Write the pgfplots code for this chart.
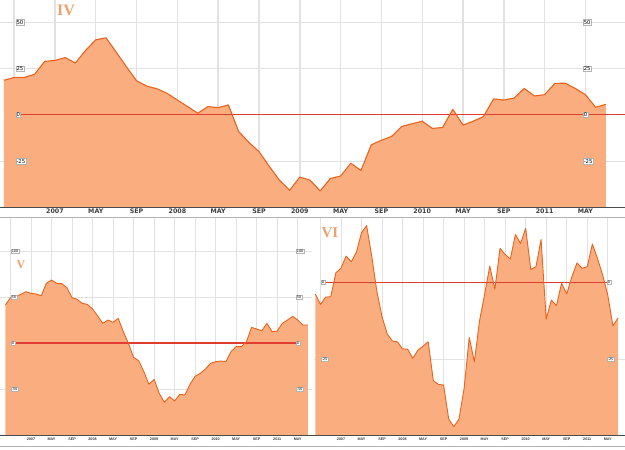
\documentclass[border=0pt]{standalone}
\usepackage{pgfplots}
\pgfplotsset{compat=1.18}
\usepackage{pgfplotstable}
\usepackage{fontspec}
\setmainfont{DejaVu Sans}
\newfontfamily\lsans{Liberation Sans}
\newfontfamily\tserif{Liberation Serif}
\definecolor{fillc}{RGB}{250,173,127}
\definecolor{linec}{RGB}{232,100,30}
\definecolor{redc}{RGB}{225,60,50}
\definecolor{gridc}{RGB}{226,226,226}
\definecolor{titlec}{RGB}{240,160,110}
\definecolor{lblc}{RGB}{60,60,60}
\definecolor{lbld}{RGB}{180,180,180}

\pgfplotstableread{
t v
-5 18.7
-4 20.2
-3 20.2
-2 21.9
-1 28.9
0 29.4
1 30.9
2 28.0
3 34.8
4 40.5
5 41.6
6 33.9
7 26.0
8 18.4
9 15.5
10 14.1
11 11.6
12 8.0
13 4.5
14 0.9
15 4.5
16 3.9
17 5.4
18 -8.9
19 -14.8
20 -19.8
21 -27.7
22 -35.2
23 -40.7
24 -33.6
25 -35.2
26 -41.0
27 -34.3
28 -33.0
29 -26.1
30 -30.0
31 -16.2
32 -13.7
33 -11.6
34 -6.2
35 -4.8
36 -3.4
37 -7.3
38 -6.8
39 3.0
40 -5.5
41 -3.4
42 -0.9
43 8.6
44 8.0
45 9.1
46 14.3
47 10.2
48 10.9
49 17.0
50 17.1
51 14.3
52 10.9
53 4.1
54 5.7
}\dataIV

\pgfplotstableread{
t v
-5 41.3
-4 49.3
-3 50.4
-2 52.9
-1 55.8
0 54.0
1 53.3
2 51.4
3 64.9
4 68.5
5 64.9
6 64.5
7 60.1
8 49.3
9 47.5
10 43.1
11 42.0
12 37.0
13 29.3
14 21.4
15 25.0
16 22.5
17 26.8
18 12.3
19 -0.4
20 -15.6
21 -19.2
22 -31.2
23 -44.9
24 -39.5
25 -54.7
26 -64.5
27 -58.3
28 -63.0
29 -55.8
30 -56.5
31 -44.9
32 -36.2
33 -33.0
34 -28.3
35 -22.1
36 -20.3
37 -19.6
38 -20.3
39 -9.4
40 -4.0
41 -4.0
42 1.4
43 17.0
44 15.2
45 13.4
46 21.4
47 12.3
48 13.0
49 21.4
50 25.0
51 29.0
52 25.0
53 19.6
54 19.6
}\dataV

\pgfplotstableread{
t v
-5 -3.8
-4 -7.2
-3 -4.8
-2 -4.7
-1 3.1
0 4.6
1 8.6
2 6.7
3 9.8
4 16.2
5 18.5
6 8.4
7 -3.0
8 -11.2
9 -16.8
10 -19.1
11 -19.4
12 -21.7
13 -21.8
14 -24.8
15 -22.1
16 -20.8
17 -19.4
18 -32.1
19 -33.3
20 -33.5
21 -44.6
22 -47.1
23 -44.6
24 -34.6
25 -18.0
26 -25.9
27 -12.6
28 -3.9
29 5.3
30 -2.2
31 11.1
32 9.1
33 7.6
34 15.6
35 12.7
36 17.6
37 4.2
38 5.1
39 14.0
40 -12.0
41 -5.8
42 -7.6
43 -0.3
44 -3.8
45 1.8
46 6.3
47 4.6
48 5.1
49 12.5
50 7.8
51 2.4
52 -4.1
53 -14.2
54 -11.6
}\dataVI

\pgfplotsset{
  panel/.style={
    scale only axis,
    axis line style={draw=none},
    major tick length=0pt,
    xtick={-4,0,...,52},
    xticklabels={,2007,MAY,SEP,2008,MAY,SEP,2009,MAY,SEP,2010,MAY,SEP,2011,MAY},
    xmajorgrids, ymajorgrids,
    yticklabels={,,,,,},
    x grid style={gridc, line width=1.4pt},
    y grid style={gridc, line width=0.8pt},
    xticklabel style={text=lblc, inner sep=0pt},
  },
  myarea/.style={draw=none, fill=fillc},
  mycurve/.style={draw=linec, line width=1.1pt, line join=round},
  zeroband/.style={draw=none, fill=redc, mark=none},
}
\tikzset{
  lbl/.style={fill=white, draw=lbld, line width=0.3pt, inner sep=0.7pt},
  bigl/.style={lbl, anchor=west, font=\fontsize{5.3}{5.5}\selectfont},
  smalll/.style={lbl, anchor=west, font=\fontsize{3.4}{3.6}\selectfont},
}

\begin{document}
\begin{tikzpicture}[x=1pt,y=1pt]
\path[use as bounding box] (0,0) rectangle (625,450);

% ---------- Panel IV ----------
\begin{axis}[panel, at={(0pt,450pt)}, anchor=north west,
  width=625pt, height=207pt,
  xmin=-5.39, xmax=55.88, ymin=-49.7, ymax=62,
  ytick={-25,25,50},
  xticklabel style={font=\bfseries\fontsize{6.3}{7}\selectfont, yshift=-1.8pt},
]
\addplot[myarea] table[x=t,y=v] {\dataIV} |- (axis cs:-5,-49.7) -- cycle;
\addplot[zeroband] coordinates {(-3.85,-0.3) (55.88,-0.3) (55.88,0.3) (-3.85,0.3)} -- cycle;
\addplot[mycurve] table[x=t,y=v] {\dataIV};
\node[bigl] at (axis cs:-3.85,50) {50};
\node[bigl] at (axis cs:-3.85,25) {25};
\node[bigl] at (axis cs:-3.85,0) {0};
\node[bigl] at (axis cs:-3.85,-25) {-25};
\node[bigl] at (axis cs:51.76,50) {50};
\node[bigl] at (axis cs:51.76,25) {25};
\node[bigl] at (axis cs:51.76,0) {0};
\node[bigl] at (axis cs:51.76,-25) {-25};
\end{axis}

% ---------- Panel V ----------
\begin{axis}[panel, at={(0pt,232pt)}, anchor=north west,
  width=312pt, height=217pt,
  xmin=-6.04, xmax=54.78, ymin=-100, ymax=135.9,
  ytick={-50,50,100},
  x grid style={gridc, line width=0.9pt},
  xticklabel style={font=\lsans\bfseries\fontsize{3.7}{4}\selectfont, yshift=-3pt},
]
\addplot[myarea] table[x=t,y=v] {\dataV} |- (axis cs:-5,-100) -- cycle;
\addplot[zeroband] coordinates {(-3.9,-0.6) (52,-0.6) (52,0.6) (-3.9,0.6)} -- cycle;
\addplot[mycurve, line width=0.9pt] table[x=t,y=v] {\dataV};
\node[smalll] at (axis cs:-3.9,100) {100};
\node[smalll] at (axis cs:-3.9,50) {50};
\node[smalll] at (axis cs:-3.9,0) {0};
\node[smalll] at (axis cs:-3.9,-50) {-50};
\node[smalll] at (axis cs:51.66,100) {100};
\node[smalll] at (axis cs:51.66,50) {50};
\node[smalll] at (axis cs:51.66,0) {0};
\node[smalll] at (axis cs:51.66,-50) {-50};
\end{axis}

% ---------- Panel VI ----------
\begin{axis}[panel, at={(314pt,232pt)}, anchor=north west,
  width=311pt, height=217pt,
  xmin=-5.26, xmax=55.36, ymin=-49.8, ymax=21,
  ytick={-25},
  x grid style={gridc, line width=0.9pt},
  xticklabel style={font=\lsans\bfseries\fontsize{3.7}{4}\selectfont, yshift=-3pt},
]
\addplot[myarea] table[x=t,y=v] {\dataVI} |- (axis cs:-5,-49.8) -- cycle;
\addplot[zeroband] coordinates {(-3.9,-0.18) (52,-0.18) (52,0.18) (-3.9,0.18)} -- cycle;
\addplot[mycurve, line width=0.9pt] table[x=t,y=v] {\dataVI};
\node[smalll] at (axis cs:-3.9,0) {0};
\node[smalll] at (axis cs:-3.9,-25) {-25};
\node[smalll] at (axis cs:51.85,0) {0};
\node[smalll] at (axis cs:51.85,-25) {-25};
\end{axis}

% frame lines
\draw[black!70, line width=0.8pt] (0,243) -- (625,243);
\draw[black!30, line width=0.8pt] (0,232.5) -- (625,232.5);
\draw[black!70, line width=0.8pt] (0,14.5) -- (625,14.5);
\draw[black!30, line width=0.8pt] (0,4) -- (625,4);

% titles
\node[font=\tserif\bfseries\fontsize{16}{16}\selectfont, text=titlec] at (66,440) {IV};
\node[font=\tserif\bfseries\fontsize{12}{12}\selectfont, text=titlec] at (21,185) {V};
\node[font=\tserif\bfseries\fontsize{15}{15}\selectfont, text=titlec] at (330,217) {VI};
\end{tikzpicture}
\end{document}
